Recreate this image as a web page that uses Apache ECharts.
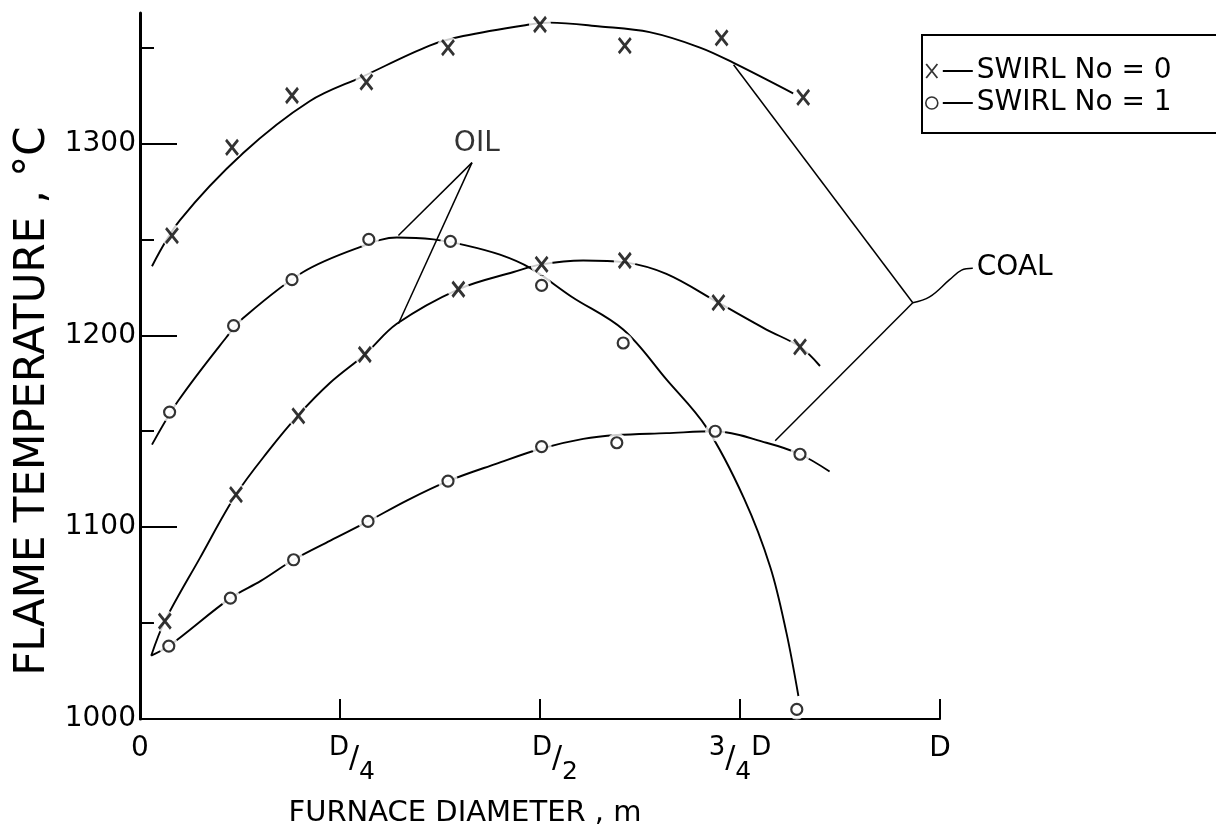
<!DOCTYPE html>
<html>
<head>
<meta charset="utf-8">
<script src="https://cdn.jsdelivr.net/npm/echarts@6/dist/echarts.min.js"></script>
<style>
  html, body { margin: 0; padding: 0; background: #fff; }
  #chart { width: 1216px; height: 833px; }
</style>
</head>
<body>
<div id="chart"></div>
<script>
// Radial position across the furnace, as a fraction of the diameter D.
const xTickValues = [0, 0.25, 0.5, 0.75, 1];
const xTickLabels = ['{n|0}', '{pad24|}{hi|D}{sl|/}{lo|4}', '{pad30|}{hi|D}{sl|/}{lo|2}', '{hi|3}{sl|/}{lo|4}{hi|D}', '{n|D}'];
const xTickMarks = [0.25, 0.5, 0.75, 1];

// Temperature axis (°C): labelled ticks and the short intermediate ticks.
const yLabelValues = [1000, 1100, 1200, 1300];
const yShortTicks = [1050, 1150, 1250, 1350];

// Measured flame temperatures, [x/D, °C].
const coalSwirl0 = [[0.040, 1252], [0.115, 1298], [0.190, 1325], [0.283, 1332], [0.385, 1350],
                    [0.500, 1362], [0.606, 1351], [0.727, 1355], [0.829, 1324]];
const oilSwirl0  = [[0.031, 1051], [0.120, 1117], [0.198, 1158], [0.281, 1190], [0.398, 1224],
                    [0.502, 1237], [0.606, 1239], [0.723, 1217], [0.825, 1194]];
const coalSwirl1 = [[0.036, 1038], [0.113, 1063], [0.192, 1083], [0.285, 1103], [0.385, 1124],
                    [0.502, 1142], [0.596, 1144], [0.719, 1150], [0.825, 1138]];
const oilSwirl1  = [[0.037, 1160], [0.117, 1205], [0.190, 1229], [0.286, 1250], [0.388, 1249],
                    [0.502, 1226], [0.604, 1196], [0.821, 1005]];

// Faired curves drawn through each set of readings.
const coalSwirl0Curve = [[0.015, 1236], [0.050, 1260], [0.129, 1295], [0.212, 1322], [0.279, 1335],
                         [0.362, 1351], [0.404, 1356], [0.487, 1362], [0.512, 1363], [0.575, 1361],
                         [0.637, 1358], [0.700, 1350], [0.742, 1342], [0.817, 1326]];
const oilSwirl0Curve  = [[0.014, 1033], [0.031, 1051], [0.075, 1084], [0.120, 1117], [0.161, 1140],
                         [0.197, 1158], [0.237, 1175], [0.281, 1190], [0.321, 1206], [0.398, 1224],
                         [0.467, 1233], [0.502, 1237], [0.554, 1239], [0.606, 1238], [0.658, 1232],
                         [0.723, 1217], [0.783, 1203], [0.825, 1194], [0.850, 1184]];
const coalSwirl1Curve = [[0.014, 1033], [0.036, 1038], [0.113, 1063], [0.151, 1072], [0.192, 1083],
                         [0.238, 1093], [0.285, 1103], [0.334, 1114], [0.385, 1124], [0.445, 1133],
                         [0.502, 1141], [0.554, 1146], [0.596, 1148], [0.658, 1149], [0.719, 1150],
                         [0.783, 1144], [0.825, 1138], [0.862, 1129]];
const oilSwirl1Curve  = [[0.015, 1143], [0.048, 1166], [0.108, 1199], [0.129, 1209], [0.204, 1233],
                         [0.275, 1246], [0.321, 1251], [0.367, 1250], [0.406, 1247], [0.450, 1242],
                         [0.488, 1235], [0.540, 1220], [0.604, 1203], [0.658, 1177], [0.708, 1152],
                         [0.755, 1115], [0.788, 1079], [0.808, 1045], [0.823, 1012]];

// Callouts: label anchor points and arrow [tail, head] pairs.
const oilLabel = [0.421, 1300];
const oilArrows = [[[0.415, 1290], [0.323, 1252]], [[0.415, 1290], [0.323, 1206]]];
const coalArrows = [[[0.966, 1217], [0.742, 1341]], [[0.966, 1217], [0.794, 1145]]];
const coalLeader = [[0.966, 1217], [0.987, 1220], [1.012, 1229], [1.027, 1234], [1.041, 1235]];
const coalLabel = [1.046, 1235];

const FONT = 'DejaVu Sans';
const INK = '#000';

const chart = echarts.init(document.getElementById('chart'), null, { renderer: 'canvas' });

const curve = (name, data) => ({
  name, type: 'line', data, smooth: 0.35, symbol: 'none', silent: true, z: 2,
  lineStyle: { color: INK, width: 1.9 }
});
// White discs under each reading leave the drafting gap where the curve meets the symbol.
const halo = (data, size) => ({
  type: 'scatter', data, symbol: 'circle', symbolSize: size, silent: true, z: 3,
  itemStyle: { color: '#fff', borderWidth: 0 }
});
const xPath = 'path://M0,0L12,15M12,0L0,15';
const crosses = data => ({
  name: 'SWIRL No = 0', type: 'scatter', data, symbol: xPath, symbolSize: [12, 15], z: 4, silent: true,
  itemStyle: { color: 'rgba(0,0,0,0)', borderColor: INK, borderWidth: 2.9 }
});
const rings = data => ({
  name: 'SWIRL No = 1', type: 'scatter', data, symbol: 'circle', symbolSize: 11, z: 4, silent: true,
  itemStyle: { color: '#fff', borderColor: INK, borderWidth: 2.2 }
});
const arrowPairs = pairs => pairs.map(p => [{ coord: p[0] }, { coord: p[1] }]);

const xRich = {
  n: { fontFamily: FONT, fontSize: 28, color: INK, lineHeight: 28, verticalAlign: 'top' },
  hi: { fontFamily: FONT, fontSize: 26, color: INK, lineHeight: 28, verticalAlign: 'top' },
  sl: { fontFamily: FONT, fontSize: 30, color: INK, lineHeight: 30, verticalAlign: 'top', padding: [9, 0, 0, 0] },
  lo: { fontFamily: FONT, fontSize: 25, color: INK, lineHeight: 26, verticalAlign: 'top', padding: [25, 0, 0, 0] },
  pad24: { width: 24, height: 10 },
  pad30: { width: 30, height: 10 }
};

chart.setOption({
  animation: false,
  backgroundColor: '#fff',
  grid: { left: 140, right: 276, top: 13, bottom: 114, containLabel: false, outerBoundsMode: 'none' },
  legend: {
    left: 922, top: 35, orient: 'vertical',
    borderColor: INK, borderWidth: 2, padding: [22, 60, 16, 3], itemGap: 4,
    itemWidth: 12, itemHeight: 14,
    data: [
      { name: 'SWIRL No = 0', icon: xPath, itemStyle: { color: 'rgba(0,0,0,0)', borderColor: INK, borderWidth: 1.8 } },
      { name: 'SWIRL No = 1', icon: 'circle', itemStyle: { color: '#fff', borderColor: INK, borderWidth: 1.6 } }
    ],
    formatter: name => '{ln|}{t|' + name + '}',
    textStyle: {
      rich: {
        ln: { width: 30, height: 2, backgroundColor: INK, verticalAlign: 'middle' },
        t: { fontFamily: FONT, fontSize: 28, color: INK, padding: [0, 0, 0, 4] }
      }
    },
    selectedMode: false
  },
  xAxis: {
    type: 'value', min: 0, max: 1,
    name: 'FURNACE DIAMETER , m', nameLocation: 'middle', nameGap: 80,
    nameTextStyle: { fontFamily: FONT, fontSize: 29, color: INK, padding: [0, 150, 0, 0] },
    axisLine: { lineStyle: { color: INK, width: 2 } },
    axisTick: { show: true, customValues: xTickMarks, inside: true, length: 20, lineStyle: { color: INK, width: 2 } },
    axisLabel: {
      customValues: xTickValues, margin: 16,
      formatter: v => xTickLabels[xTickValues.indexOf(v)],
      rich: xRich
    },
    splitLine: { show: false }
  },
  yAxis: [
    {
      type: 'value', min: 1000, max: 1368,
      name: 'FLAME TEMPERATURE , °C', nameLocation: 'middle', nameRotate: 90, nameGap: 82,
      nameTextStyle: { fontFamily: FONT, fontSize: 42, color: INK, padding: [0, 70, 0, 0] },
      axisLine: { lineStyle: { color: INK, width: 3 } },
      axisTick: { show: true, customValues: yLabelValues, inside: true, length: 37, lineStyle: { color: INK, width: 2 } },
      axisLabel: { customValues: yLabelValues, margin: 4, fontFamily: FONT, fontSize: 28, color: INK, formatter: v => String(v) },
      splitLine: { show: false }
    },
    {
      type: 'value', min: 1000, max: 1368, position: 'left', offset: 0,
      axisLine: { show: false },
      axisTick: { show: true, customValues: yShortTicks, inside: true, length: 14, lineStyle: { color: INK, width: 2 } },
      axisLabel: { show: false },
      splitLine: { show: false }
    }
  ],
  series: [
    curve('Coal, swirl 0', coalSwirl0Curve),
    curve('Oil, swirl 0', oilSwirl0Curve),
    curve('Coal, swirl 1', coalSwirl1Curve),
    curve('Oil, swirl 1', oilSwirl1Curve),
    halo(coalSwirl0.concat(oilSwirl0), 22),
    halo(coalSwirl1.concat(oilSwirl1), 20),
    crosses(coalSwirl0),
    crosses(oilSwirl0),
    rings(coalSwirl1),
    rings(oilSwirl1),
    {
      name: 'callouts', type: 'line', data: [], z: 5, silent: true,
      markLine: {
        silent: true, symbol: ['none', 'arrow'], symbolSize: [0, 11], animation: false,
        label: { show: false },
        lineStyle: { color: INK, width: 1.5, type: 'solid' },
        data: arrowPairs(oilArrows).concat(arrowPairs(coalArrows))
      }
    },
    {
      name: 'oil label', type: 'scatter', data: [oilLabel], symbolSize: 0, z: 5, silent: true,
      label: { show: true, position: 'inside', formatter: 'OIL', fontFamily: FONT, fontSize: 28, color: INK }
    }
  ]
});

// The COAL callout sits right of the plot frame, so it is placed with the grid's own scales.
const toPx = p => chart.convertToPixel({ xAxisIndex: 0, yAxisIndex: 0 }, p);
const labelPx = toPx(coalLabel);
chart.setOption({
  graphic: [
    {
      type: 'polyline', silent: true, z: 5,
      shape: { points: coalLeader.map(toPx), smooth: 0.4 },
      style: { stroke: INK, lineWidth: 1.5, fill: null }
    },
    {
      type: 'text', silent: true, z: 5, x: labelPx[0], y: labelPx[1],
      style: { text: 'COAL', fontFamily: FONT, fontSize: 28, fill: INK, align: 'left', verticalAlign: 'middle' }
    }
  ]
});
</script>
</body>
</html>
